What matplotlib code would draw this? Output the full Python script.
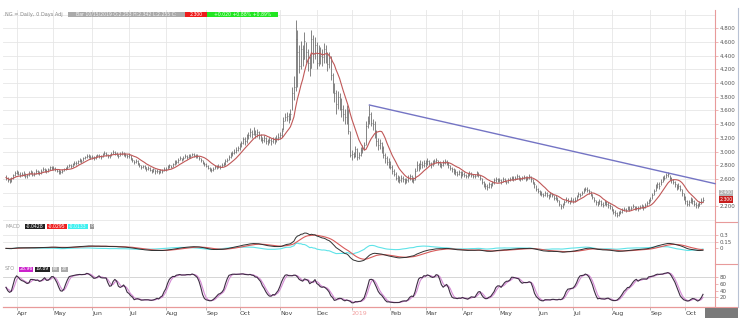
import numpy as np
import pandas as pd
import matplotlib
matplotlib.use("Agg")
import matplotlib.pyplot as plt
from matplotlib.lines import Line2D
from matplotlib.patches import Rectangle
import matplotlib.transforms as mtransforms

plt.rcParams['font.family'] = ['DejaVu Sans']

# ---------------- data (NG daily) ----------------
start_date = '2018-03-22'
holidays = ['2018-03-30', '2018-05-28', '2018-07-04', '2018-09-03', '2018-11-22',
            '2018-12-25', '2019-01-01', '2019-04-19', '2019-05-27', '2019-07-04',
            '2019-09-02']

closes = [
    # Mar 2018
    2.62, 2.59, 2.57, 2.61, 2.66, 2.69,
    # Apr
    2.70, 2.68, 2.66, 2.68, 2.67, 2.64, 2.66, 2.68, 2.70, 2.66, 2.68, 2.71, 2.70, 2.69, 2.72, 2.74, 2.73, 2.71, 2.74, 2.77, 2.76,
    # May
    2.76, 2.74, 2.72, 2.71, 2.70, 2.72, 2.74, 2.76, 2.78, 2.80, 2.79, 2.82, 2.84, 2.83, 2.86, 2.88, 2.86, 2.90, 2.92, 2.94, 2.93, 2.92,
    # Jun
    2.92, 2.90, 2.93, 2.95, 2.94, 2.92, 2.96, 2.98, 2.96, 2.93, 2.94, 2.97, 3.00, 2.98, 2.96, 2.94, 2.97, 2.98, 2.96, 2.95, 2.93,
    # Jul
    2.95, 2.90, 2.87, 2.85, 2.86, 2.83, 2.80, 2.78, 2.79, 2.77, 2.75, 2.76, 2.73, 2.72, 2.74, 2.71, 2.72, 2.70, 2.73, 2.72, 2.74,
    # Aug
    2.75, 2.77, 2.80, 2.78, 2.82, 2.84, 2.85, 2.88, 2.90, 2.88, 2.91, 2.93, 2.92, 2.95, 2.94, 2.96, 2.95, 2.93, 2.94, 2.90, 2.87, 2.84, 2.82,
    # Sep
    2.79, 2.76, 2.74, 2.73, 2.75, 2.77, 2.78, 2.79, 2.78, 2.80, 2.82, 2.86, 2.88, 2.92, 2.96, 2.98, 3.00, 3.02, 3.05,
    # Oct
    3.08, 3.12, 3.18, 3.15, 3.20, 3.24, 3.28, 3.26, 3.30, 3.25, 3.28, 3.24, 3.20, 3.17, 3.20, 3.16, 3.14, 3.17, 3.15, 3.18, 3.16, 3.20, 3.22,
    # Nov
    3.24, 3.30, 3.45, 3.50, 3.52, 3.48, 3.55, 3.85, 3.95, 4.65, 4.45, 4.25, 4.50, 4.35, 4.62, 4.45, 4.30, 4.22, 4.65, 4.42, 4.55,
    # Dec
    4.30, 4.45, 4.40, 4.38, 4.50, 4.40, 4.28, 4.36, 4.12, 3.95, 3.85, 3.70, 3.80, 3.72, 3.62, 3.55, 3.50, 3.62, 3.30, 2.95,
    # Jan 2019
    2.96, 2.94, 3.04, 2.92, 2.95, 3.02, 3.05, 3.10, 3.38, 3.45, 3.55, 3.42, 3.40, 3.30, 3.15, 3.10, 3.12, 3.05, 2.95, 2.90, 2.85, 2.82,
    # Feb
    2.78, 2.72, 2.68, 2.62, 2.60, 2.58, 2.62, 2.60, 2.56, 2.58, 2.62, 2.64, 2.60, 2.58, 2.72, 2.80, 2.76, 2.82, 2.80, 2.84,
    # Mar
    2.82, 2.86, 2.84, 2.80, 2.84, 2.86, 2.88, 2.84, 2.82, 2.80, 2.84, 2.86, 2.84, 2.80, 2.76, 2.74, 2.72, 2.70, 2.68, 2.70, 2.66,
    # Apr
    2.68, 2.66, 2.64, 2.66, 2.68, 2.66, 2.64, 2.65, 2.68, 2.66, 2.62, 2.56, 2.52, 2.50, 2.48, 2.52, 2.50, 2.54, 2.58, 2.60, 2.58,
    # May
    2.58, 2.56, 2.60, 2.58, 2.55, 2.58, 2.60, 2.62, 2.60, 2.62, 2.64, 2.62, 2.60, 2.62, 2.63, 2.60, 2.62, 2.64, 2.60, 2.56, 2.52, 2.46,
    # Jun
    2.42, 2.40, 2.38, 2.36, 2.40, 2.36, 2.34, 2.38, 2.36, 2.32, 2.34, 2.30, 2.24, 2.20, 2.22, 2.26, 2.30, 2.28, 2.26, 2.30,
    # Jul
    2.28, 2.30, 2.34, 2.38, 2.36, 2.40, 2.44, 2.46, 2.44, 2.42, 2.38, 2.34, 2.30, 2.26, 2.24, 2.28, 2.24, 2.22, 2.26, 2.24, 2.22, 2.20,
    # Aug
    2.16, 2.12, 2.10, 2.08, 2.10, 2.12, 2.14, 2.16, 2.15, 2.18, 2.16, 2.18, 2.20, 2.17, 2.18, 2.16, 2.19, 2.20, 2.18, 2.22, 2.25, 2.28,
    # Sep
    2.30, 2.36, 2.42, 2.48, 2.52, 2.50, 2.56, 2.60, 2.62, 2.66, 2.68, 2.62, 2.58, 2.56, 2.52, 2.48, 2.50, 2.46, 2.40, 2.34,
    # Oct
    2.28, 2.24, 2.26, 2.30, 2.28, 2.24, 2.22, 2.20, 2.24, 2.28, 2.30,
]

highs = [
    2.66, 2.63, 2.61, 2.63, 2.68, 2.72,
    2.73, 2.72, 2.70, 2.70, 2.71, 2.69, 2.68, 2.71, 2.73, 2.71, 2.70, 2.74, 2.73, 2.72, 2.74, 2.77, 2.76, 2.75, 2.76, 2.79, 2.79,
    2.79, 2.78, 2.75, 2.74, 2.73, 2.74, 2.76, 2.78, 2.80, 2.82, 2.82, 2.84, 2.86, 2.86, 2.88, 2.90, 2.89, 2.92, 2.94, 2.96, 2.96, 2.95,
    2.95, 2.93, 2.95, 2.97, 2.97, 2.95, 2.98, 3.01, 2.99, 2.97, 2.96, 2.99, 3.03, 3.01, 2.99, 2.97, 2.99, 3.01, 2.99, 2.98, 2.96,
    2.98, 2.95, 2.91, 2.88, 2.89, 2.87, 2.84, 2.81, 2.81, 2.80, 2.78, 2.79, 2.77, 2.75, 2.76, 2.75, 2.75, 2.73, 2.75, 2.75, 2.77,
    2.78, 2.80, 2.82, 2.81, 2.84, 2.87, 2.88, 2.90, 2.93, 2.91, 2.93, 2.96, 2.95, 2.97, 2.97, 2.98, 2.98, 2.96, 2.96, 2.94, 2.91, 2.88, 2.85,
    2.83, 2.80, 2.78, 2.76, 2.78, 2.80, 2.81, 2.82, 2.81, 2.83, 2.85, 2.89, 2.91, 2.95, 2.99, 3.01, 3.04, 3.06, 3.08,
    3.12, 3.16, 3.22, 3.21, 3.25, 3.29, 3.34, 3.32, 3.36, 3.32, 3.33, 3.30, 3.26, 3.22, 3.24, 3.22, 3.19, 3.21, 3.20, 3.22, 3.21, 3.24, 3.27,
    3.29, 3.34, 3.50, 3.56, 3.58, 3.56, 3.62, 3.95, 4.10, 4.92, 4.78, 4.55, 4.62, 4.55, 4.75, 4.60, 4.50, 4.40, 4.78, 4.70, 4.68,
    4.60, 4.55, 4.52, 4.50, 4.58, 4.55, 4.45, 4.45, 4.40, 4.15, 4.00, 3.90, 3.88, 3.85, 3.78, 3.68, 3.62, 3.68, 3.62, 3.30,
    3.02, 3.00, 3.08, 3.05, 3.00, 3.06, 3.10, 3.14, 3.45, 3.52, 3.68, 3.58, 3.48, 3.45, 3.32, 3.20, 3.18, 3.14, 3.08, 2.98, 2.94, 2.90,
    2.86, 2.80, 2.74, 2.70, 2.66, 2.64, 2.66, 2.65, 2.62, 2.62, 2.66, 2.68, 2.66, 2.63, 2.76, 2.86, 2.84, 2.87, 2.86, 2.88,
    2.88, 2.90, 2.88, 2.85, 2.87, 2.89, 2.91, 2.88, 2.86, 2.84, 2.87, 2.89, 2.88, 2.85, 2.81, 2.78, 2.76, 2.74, 2.72, 2.73, 2.71,
    2.71, 2.70, 2.68, 2.69, 2.71, 2.70, 2.68, 2.68, 2.71, 2.70, 2.66, 2.62, 2.57, 2.54, 2.52, 2.55, 2.54, 2.57, 2.61, 2.63, 2.62,
    2.62, 2.60, 2.63, 2.62, 2.59, 2.61, 2.63, 2.65, 2.64, 2.65, 2.67, 2.66, 2.63, 2.65, 2.66, 2.64, 2.65, 2.67, 2.65, 2.60, 2.56, 2.51,
    2.47, 2.44, 2.42, 2.40, 2.43, 2.41, 2.38, 2.41, 2.40, 2.36, 2.37, 2.34, 2.29, 2.24, 2.25, 2.29, 2.33, 2.32, 2.30, 2.33,
    2.32, 2.33, 2.37, 2.41, 2.40, 2.43, 2.47, 2.49, 2.48, 2.46, 2.42, 2.38, 2.34, 2.30, 2.28, 2.31, 2.29, 2.26, 2.29, 2.28, 2.26, 2.24,
    2.21, 2.16, 2.14, 2.12, 2.13, 2.15, 2.17, 2.19, 2.18, 2.21, 2.20, 2.21, 2.23, 2.21, 2.21, 2.20, 2.22, 2.23, 2.22, 2.25, 2.28, 2.31,
    2.34, 2.40, 2.46, 2.52, 2.56, 2.55, 2.60, 2.64, 2.66, 2.69, 2.70, 2.66, 2.63, 2.60, 2.57, 2.53, 2.54, 2.51, 2.46, 2.39,
    2.35, 2.30, 2.30, 2.34, 2.32, 2.30, 2.27, 2.25, 2.28, 2.32, 2.34,
]

lows = [
    2.58, 2.56, 2.54, 2.56, 2.60, 2.65,
    2.67, 2.66, 2.63, 2.64, 2.65, 2.62, 2.62, 2.65, 2.67, 2.65, 2.65, 2.67, 2.68, 2.66, 2.68, 2.71, 2.70, 2.69, 2.70, 2.73, 2.73,
    2.73, 2.72, 2.70, 2.68, 2.67, 2.69, 2.71, 2.73, 2.75, 2.77, 2.76, 2.78, 2.81, 2.80, 2.82, 2.85, 2.84, 2.86, 2.89, 2.91, 2.90, 2.89,
    2.89, 2.87, 2.89, 2.92, 2.91, 2.89, 2.92, 2.95, 2.93, 2.91, 2.91, 2.94, 2.96, 2.95, 2.93, 2.91, 2.93, 2.95, 2.93, 2.92, 2.90,
    2.91, 2.88, 2.85, 2.82, 2.83, 2.80, 2.78, 2.75, 2.76, 2.74, 2.72, 2.73, 2.71, 2.69, 2.70, 2.68, 2.69, 2.67, 2.69, 2.69, 2.71,
    2.72, 2.74, 2.76, 2.76, 2.78, 2.81, 2.82, 2.84, 2.87, 2.86, 2.87, 2.90, 2.89, 2.91, 2.91, 2.93, 2.92, 2.91, 2.91, 2.88, 2.85, 2.82, 2.79,
    2.77, 2.74, 2.71, 2.70, 2.72, 2.74, 2.75, 2.76, 2.75, 2.77, 2.79, 2.81, 2.85, 2.88, 2.91, 2.94, 2.96, 2.98, 3.01,
    3.03, 3.07, 3.11, 3.10, 3.13, 3.18, 3.22, 3.20, 3.24, 3.20, 3.22, 3.19, 3.15, 3.12, 3.14, 3.11, 3.09, 3.12, 3.10, 3.12, 3.11, 3.14, 3.17,
    3.18, 3.22, 3.32, 3.44, 3.45, 3.42, 3.46, 3.60, 3.75, 3.88, 3.95, 4.15, 4.20, 4.25, 4.35, 4.30, 4.18, 4.10, 4.22, 4.30, 4.35,
    4.20, 4.25, 4.28, 4.25, 4.30, 4.30, 4.18, 4.22, 4.05, 3.85, 3.72, 3.55, 3.62, 3.60, 3.50, 3.45, 3.40, 3.40, 3.25, 2.92,
    2.88, 2.90, 2.92, 2.88, 2.89, 2.93, 2.98, 3.02, 3.10, 3.34, 3.40, 3.38, 3.32, 3.20, 3.08, 3.02, 3.04, 2.98, 2.90, 2.84, 2.80, 2.76,
    2.74, 2.68, 2.64, 2.58, 2.56, 2.54, 2.56, 2.56, 2.52, 2.54, 2.56, 2.59, 2.56, 2.54, 2.58, 2.72, 2.72, 2.75, 2.76, 2.78,
    2.78, 2.80, 2.80, 2.76, 2.79, 2.82, 2.83, 2.80, 2.78, 2.76, 2.79, 2.82, 2.80, 2.76, 2.73, 2.70, 2.68, 2.66, 2.64, 2.66, 2.62,
    2.64, 2.63, 2.61, 2.62, 2.65, 2.63, 2.61, 2.62, 2.64, 2.63, 2.58, 2.53, 2.48, 2.46, 2.44, 2.47, 2.47, 2.50, 2.53, 2.56, 2.55,
    2.55, 2.53, 2.56, 2.55, 2.52, 2.54, 2.57, 2.58, 2.57, 2.58, 2.60, 2.59, 2.57, 2.58, 2.60, 2.57, 2.58, 2.60, 2.56, 2.52, 2.47, 2.42,
    2.39, 2.37, 2.35, 2.33, 2.35, 2.33, 2.31, 2.34, 2.33, 2.29, 2.30, 2.26, 2.20, 2.16, 2.18, 2.22, 2.26, 2.25, 2.23, 2.26,
    2.25, 2.27, 2.30, 2.34, 2.33, 2.36, 2.40, 2.42, 2.41, 2.38, 2.35, 2.31, 2.27, 2.22, 2.21, 2.24, 2.21, 2.19, 2.22, 2.20, 2.18, 2.16,
    2.13, 2.09, 2.06, 2.04, 2.06, 2.09, 2.11, 2.13, 2.12, 2.14, 2.13, 2.15, 2.17, 2.14, 2.15, 2.13, 2.16, 2.17, 2.15, 2.18, 2.21, 2.24,
    2.26, 2.31, 2.37, 2.43, 2.47, 2.46, 2.51, 2.55, 2.58, 2.61, 2.63, 2.58, 2.54, 2.52, 2.48, 2.44, 2.46, 2.42, 2.35, 2.30,
    2.24, 2.20, 2.21, 2.25, 2.24, 2.20, 2.18, 2.17, 2.20, 2.24, 2.26,
]

month_labels = ['Apr', 'May', 'Jun', 'Jul', 'Aug', 'Sep', 'Oct', 'Nov', 'Dec', '2019',
                'Feb', 'Mar', 'Apr', 'May', 'Jun', 'Jul', 'Aug', 'Sep', 'Oct']
price_ticks = [2.2, 2.6, 2.8, 3.0, 3.2, 3.4, 3.6, 3.8, 4.0, 4.2, 4.4, 4.6, 4.8]
macd_ticks = [0.3, 0.15, 0]
sto_ticks = [80, 60, 40, 20]
trend_dates = ['2019-01-16', '2019-09-13']
trend_prices = [3.68, 2.70]
gray_label_price = 2.40

assert len(closes) == len(highs) == len(lows), (len(closes), len(highs), len(lows))
n = len(closes)
dates = pd.bdate_range(start=start_date, periods=n, freq='C', holidays=holidays)
idx = np.arange(n)

# indicators computed from the data
c = pd.Series(closes, dtype=float)
h = pd.Series(highs, dtype=float)
l = pd.Series(lows, dtype=float)
ma10 = c.rolling(10, min_periods=1).mean()
ema12 = c.ewm(span=12, adjust=False).mean()
ema26 = c.ewm(span=26, adjust=False).mean()
macd = ema12 - ema26
signal = macd.ewm(span=9, adjust=False).mean()
hist = macd - signal
hh = h.rolling(14, min_periods=1).max()
ll = l.rolling(14, min_periods=1).min()
fastk = 100 * (c - ll) / (hh - ll)
sk = fastk.rolling(3, min_periods=1).mean()
sd = sk.rolling(3, min_periods=1).mean()

# month starts
ser = pd.Series(idx, index=dates)
firsts = ser.groupby([dates.year, dates.month]).first().values[1:]

# ---------------- figure ----------------
W, H = 750, 326
fig = plt.figure(figsize=(7.5, 3.26), dpi=100)
fig.patch.set_facecolor('white')


def fax(x0, y0, x1, y1):
    return fig.add_axes([x0 / W, 1 - y1 / H, (x1 - x0) / W, (y1 - y0) / H])


ax1 = fax(3, 10, 715, 222)
ax2 = fax(3, 222, 715, 264)
ax3 = fax(3, 264, 715, 307)

px_per_bar = 1.756
xmin = -3.0 / px_per_bar
xmax = n - 1 + (715 - 703) / px_per_bar
RED = '#e89a9a'
GRID = '#e6e6e6'

for ax in (ax1, ax2, ax3):
    ax.set_xlim(xmin, xmax)
    for s in ('left', 'top', 'bottom'):
        ax.spines[s].set_visible(False)
    ax.spines['right'].set_color(RED)
    ax.spines['right'].set_linewidth(0.8)
    ax.yaxis.tick_right()
    ax.tick_params(axis='y', length=2, width=0.5, color=RED, labelsize=4,
                   labelcolor='#555555', pad=1.5)
    ax.set_xticks(firsts)
    ax.grid(True, axis='x', color=GRID, lw=0.6)
    ax.set_axisbelow(True)
    ax.set_facecolor('white')

ax1.tick_params(axis='x', length=0, labelbottom=False)
ax2.tick_params(axis='x', length=0, labelbottom=False)

# price panel
ax1.set_ylim(1.972, 5.067)
for g in np.arange(2.0, 5.01, 0.2):
    ax1.axhline(g, color=GRID, lw=0.6, zorder=0)
ax1.set_yticks(price_ticks)
ax1.set_yticklabels(['%.3f' % v for v in price_ticks])
ax1.vlines(idx, lows, highs, color='#707070', lw=0.6, zorder=2)
ax1.hlines(closes, idx, idx + 0.5, color='#707070', lw=0.5, zorder=2)
ax1.plot(idx, ma10, color='#c05858', lw=0.8, zorder=3)

t0 = dates.get_loc(pd.Timestamp(trend_dates[0]))
t1 = dates.get_loc(pd.Timestamp(trend_dates[1]))
slope = (trend_prices[1] - trend_prices[0]) / (t1 - t0)
ax1.plot([t0, xmax], [trend_prices[0], trend_prices[0] + slope * (xmax - t0)],
         color='#7474c4', lw=1.0, zorder=4, clip_on=False)

# right side price boxes
btr = mtransforms.blended_transform_factory(ax1.transAxes, ax1.transData)
bx0 = (718.5 - 3) / 712
bw = 15 / 712
ax1.add_patch(Rectangle((bx0, gray_label_price - 0.045), bw, 0.09, transform=btr,
                        facecolor='#b4b4b4', edgecolor='none', clip_on=False, zorder=5))
ax1.text(bx0 + bw / 2, gray_label_price, '%.3f' % gray_label_price, transform=btr,
         fontsize=3.3, color='white', ha='center', va='center', clip_on=False, zorder=6)
ax1.add_patch(Rectangle((bx0, closes[-1] - 0.045), bw, 0.09, transform=btr,
                        facecolor='#c81e1e', edgecolor='none', clip_on=False, zorder=5))
ax1.text(bx0 + bw / 2, closes[-1], '%.3f' % closes[-1], transform=btr,
         fontsize=3.3, color='white', ha='center', va='center', clip_on=False, zorder=6)

# MACD panel
ax2.set_ylim(-0.36, 0.61)
ax2.axhline(0.3, color=GRID, lw=0.6, zorder=0)
ax2.axhline(0.15, color=GRID, lw=0.6, zorder=0)
ax2.set_yticks(macd_ticks)
ax2.set_yticklabels(['0.3', '0.15', '0'])
ax2.plot(idx, hist, color='#5fe3e8', lw=0.8, zorder=2)
ax2.plot(idx, signal, color='#d85a5a', lw=0.8, zorder=3)
ax2.plot(idx, macd, color='#303030', lw=0.7, zorder=4)

# Stochastic panel
ax3.set_ylim(-9, 120)
ax3.axhline(80, color='#cfcfcf', lw=0.6, zorder=0)
ax3.axhline(20, color='#cfcfcf', lw=0.6, zorder=0)
ax3.set_yticks(sto_ticks)
ax3.set_yticklabels([str(v) for v in sto_ticks])
ax3.plot(idx, sd, color='#d48ad4', lw=0.8, zorder=2)
ax3.plot(idx, sk, color='#3e2c44', lw=0.8, zorder=3)
ax3.spines['bottom'].set_visible(True)
ax3.spines['bottom'].set_color(RED)
ax3.spines['bottom'].set_linewidth(0.9)
ax3.set_xticklabels(month_labels)
ax3.tick_params(axis='x', length=2, width=0.5, color='#999999', labelsize=4.5,
                labelcolor='#444444', pad=1)
for lbl in ax3.get_xticklabels():
    lbl.set_ha('left')
    if lbl.get_text() == '2019':
        lbl.set_color('#f2a0a0')

# separators in right label area, scroll line
for yy in (222, 264):
    fig.add_artist(Line2D([715 / W, 738 / W], [1 - yy / H, 1 - yy / H], color=RED, lw=0.8))
fig.add_artist(Line2D([715 / W, 738 / W], [1 - 307 / H, 1 - 307 / H], color=RED, lw=0.8))
fig.add_artist(Line2D([738 / W, 738 / W], [1 - 8 / H, 1 - 307 / H], color='#b8c2d4', lw=0.8))


def box(x0, y0, x1, y1, fc, txt, tc, fs=3.3):
    fig.add_artist(Rectangle((x0 / W, 1 - y1 / H), (x1 - x0) / W, (y1 - y0) / H,
                             transform=fig.transFigure, facecolor=fc, edgecolor='none'))
    fig.text((x0 + x1) / 2 / W, 1 - (y0 + y1) / 2 / H, txt, fontsize=fs, color=tc,
             ha='center', va='center')


# header
fig.text(5 / W, 1 - 14.5 / H, 'NG = Daily, 0 Days Adj', fontsize=3.6, color='#888888',
         ha='left', va='center')
box(68, 12, 185, 17, '#aaaaaa', 'Bar 10/15/2019 O:2.253 H:2.342 L:2.255 C:', '#f4f4f4')
box(185, 12, 207, 17, '#ee1c1c', '2.300', 'white')
box(207, 12, 278, 17, '#22e622', '+0.020 +0.88% +0.89%', '#eaffea')

# MACD legend
fig.text(5 / W, 1 - 226 / H, 'MACD', fontsize=3.6, color='#999999', ha='left', va='center')
box(25, 223.5, 45, 228.5, '#222222', '%.4f' % macd.iloc[-1], 'white')
box(47, 223.5, 67, 228.5, '#ee2020', '%.4f' % signal.iloc[-1], 'white')
box(68, 223.5, 88, 228.5, '#3ff0f0', '%.4f' % hist.iloc[-1], '#e0ffff')
box(90, 223.5, 94, 228.5, '#999999', '0', 'white', fs=3)

# STO legend
fig.text(5 / W, 1 - 269 / H, 'STO', fontsize=3.6, color='#999999', ha='left', va='center')
box(19, 266.5, 33, 271.5, '#cc22cc', '%.2f' % sk.iloc[-1], 'white')
box(35, 266.5, 50, 271.5, '#222222', '%.2f' % sd.iloc[-1], 'white')
box(52, 266.5, 59, 271.5, '#aaaaaa', '80', 'white', fs=3)
box(61, 266.5, 68, 271.5, '#aaaaaa', '20', 'white', fs=3)

# bottom-right grey box
fig.add_artist(Rectangle((705 / W, 1 - 318 / H), 33 / W, 10 / H,
                         transform=fig.transFigure, facecolor='#7a7a7a', edgecolor='none'))

fig.savefig('out.png', dpi=100, facecolor='white')
